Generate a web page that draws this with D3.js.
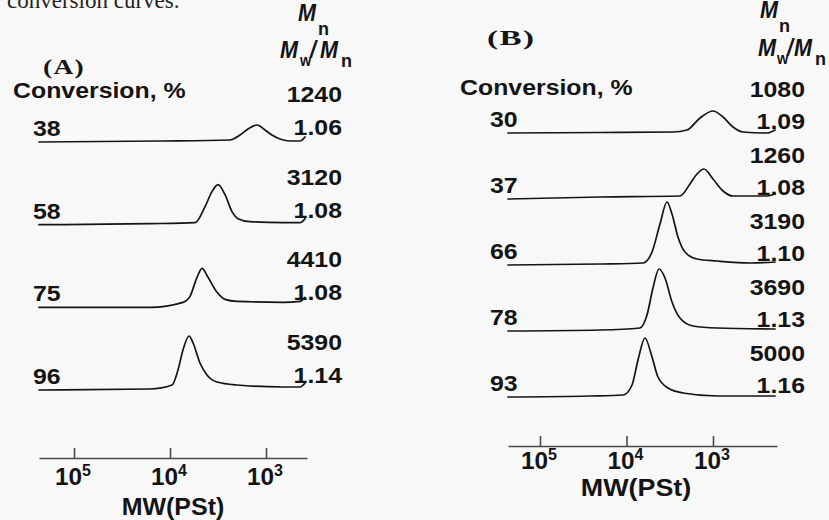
<!DOCTYPE html>
<html><head><meta charset="utf-8">
<script src="https://cdn.jsdelivr.net/npm/d3@7"></script>
<style>html,body{margin:0;padding:0;background:#f8f8f8;} svg{display:block;}</style>
</head><body><svg id="c" width="829" height="520"></svg>
<script>
// ---------- data ----------
const conversionA = [38, 58, 75, 96];
const mnA = ["1240", "3120", "4410", "5390"];
const pdiA = ["1.06", "1.08", "1.08", "1.14"];
const conversionB = [30, 37, 66, 78, 93];
const mnB = ["1080", "1260", "3190", "3690", "5000"];
const pdiB = ["1.09", "1.08", "1.10", "1.13", "1.16"];
const mwTicks = [1e5, 1e4, 1e3];
const tickExponents = ["5", "4", "3"];
// GPC traces: [log10 MW, detector signal (a.u.)]
const traceA38 = [[5.365,0],[4.729,0.5],[4.104,1],[3.375,2],[3.271,7],[3.188,13],[3.094,17],[3.010,12],[2.938,7],[2.854,3],[2.750,1],[2.646,1],[2.594,5]];
const traceA58 = [[5.365,0],[4.208,1],[3.740,2],[3.635,18],[3.563,33],[3.500,40],[3.427,30],[3.354,13],[3.292,6],[3.167,3],[2.823,2],[2.646,2],[2.594,6]];
const traceA75 = [[5.365,0],[4.208,0],[3.865,5],[3.792,11],[3.719,30],[3.667,39],[3.604,30],[3.510,15],[3.427,8],[3.302,6],[2.823,5],[2.646,6],[2.594,10]];
const traceA96 = [[5.365,0],[4.208,1],[3.979,5],[3.917,20],[3.865,40],[3.802,54],[3.760,47],[3.688,27],[3.615,15],[3.510,8],[3.302,5],[2.823,3],[2.646,3],[2.594,7]];
const traceB30 = [[5.370,0],[4.306,0.5],[3.462,1],[3.301,3],[3.150,15],[3.000,22],[2.884,16],[2.769,6],[2.653,1],[2.376,0],[2.283,3]];
const traceB37 = [[5.370,0],[4.306,2],[3.382,3],[3.266,15],[3.185,25],[3.104,30],[3.000,20],[2.884,8],[2.769,3],[2.376,3],[2.283,5]];
const traceB66 = [[5.370,0],[4.306,1],[3.809,2],[3.705,13],[3.613,41],[3.532,63],[3.474,51],[3.405,28],[3.324,13],[3.185,6],[2.954,4],[2.572,2],[2.283,3]];
const traceB78 = [[5.370,0],[4.306,1],[3.844,3],[3.763,16],[3.694,43],[3.624,62],[3.555,53],[3.474,29],[3.382,13],[3.231,5],[2.954,3],[2.283,2]];
const traceB93 = [[5.370,0],[4.422,1],[4.040,2],[3.936,12],[3.867,37],[3.786,59],[3.705,40],[3.636,20],[3.520,9],[3.347,4],[2.954,1],[2.283,1]];
const tracesA = [traceA38, traceA58, traceA75, traceA96];
const tracesB = [traceB30, traceB37, traceB66, traceB78, traceB93];

// ---------- drawing ----------
const svg = d3.select("#c");
svg.append("rect").attr("width", 829).attr("height", 520).attr("fill", "#f8f8f8");
const SANS = "'Liberation Sans', Arial, sans-serif";
const SERIF = "'Liberation Serif', 'Times New Roman', serif";
const INK = "#141414";

function T(g, str, x, y, o = {}) {
  const size = o.size || 22, sx = o.sx || 1.13;
  return g.append("text")
    .attr("transform", `translate(${x},${y}) scale(${sx},1)`)
    .attr("text-anchor", o.anchor || "start")
    .attr("font-family", o.family || SANS)
    .attr("font-weight", o.weight || "bold")
    .attr("font-style", o.style || "normal")
    .attr("font-size", size)
    .attr("letter-spacing", o.ls || 0)
    .attr("fill", o.fill || INK)
    .text(str);
}

// clipped caption line from the page above
T(svg, "conversion curves.", 7, 8, {size: 23, sx: 1.0, family: SERIF, weight: "normal", fill: "#222"});

const y = d3.scaleLinear().domain([0, 70]).range([0, -70]);

function panel(cfg) {
  const g = svg.append("g");
  const x = d3.scaleLog().domain(cfg.logDomain.map(v => Math.pow(10, v))).range(cfg.xRange);
  const row = d3.scalePoint().domain(cfg.conv).range(cfg.rowRange);
  const line = d3.line().x(d => x(Math.pow(10, d[0]))).y(d => y(d[1])).curve(d3.curveMonotoneX);

  // axis
  const ax = g.append("g").attr("transform", `translate(0,${cfg.axisY})`)
    .call(d3.axisBottom(x).tickValues(mwTicks).tickSizeInner(-10).tickSizeOuter(0).tickFormat(""));
  ax.select(".domain").attr("stroke", "#4a4a4a").attr("stroke-width", 1.6);
  ax.selectAll(".tick line").attr("stroke", "#4a4a4a").attr("stroke-width", 1.6);
  mwTicks.forEach((t, i) => {
    const tx = x(t);
    T(g, "10", tx - 19, cfg.tickLabelY, {size: 23, sx: 1.06});
    T(g, tickExponents[i], tx + 8, cfg.tickLabelY - 9, {size: 16, sx: 1.0});
  });
  T(g, "MW(PSt)", cfg.mwLabel[0], cfg.mwLabel[1], {size: 24, sx: cfg.mwLabel[2], anchor: "middle"});

  // traces
  cfg.conv.forEach((c, i) => {
    const r = row(c);
    g.append("path").attr("transform", `translate(0,${r})`)
      .attr("d", line(cfg.traces[i]))
      .attr("fill", "none").attr("stroke", INK).attr("stroke-width", 1.7)
      .attr("stroke-linejoin", "round").attr("stroke-linecap", "round");
    T(g, String(c), cfg.convX, r - 6);
    T(g, cfg.mn[i], cfg.numRight, r + cfg.mnOff, {anchor: "end"});
    T(g, cfg.pdi[i], cfg.numRight, r + cfg.pdiOff, {anchor: "end"});
  });

  // titles
  T(g, cfg.letter, cfg.letterPos[0], cfg.letterPos[1], {family: SERIF, size: 22, sx: cfg.letterSx, ls: 1});
  T(g, "Conversion, %", cfg.convTitle[0], cfg.convTitle[1]);
  // header M_n and M_w/M_n
  const h = cfg.head;
  T(g, "M", h.m1[0], h.m1[1], {size: 24, sx: 0.9, style: "italic"});
  T(g, "n", h.n1[0], h.n1[1], {size: 19, sx: 0.95});
  T(g, "M", h.m2[0], h.m2[1], {size: 24, sx: 0.9, style: "italic"});
  T(g, "w", h.w2[0], h.w2[1], {size: 17, sx: 0.85});
  T(g, "/", h.s2[0], h.s2[1], {size: 24, sx: 0.9, style: "italic"});
  T(g, "M", h.m3[0], h.m3[1], {size: 24, sx: 0.9, style: "italic"});
  T(g, "n", h.n3[0], h.n3[1], {size: 19, sx: 0.95});
}

panel({
  conv: conversionA, mn: mnA, pdi: pdiA, traces: tracesA,
  logDomain: [5.365, 2.573], xRange: [39, 307], rowRange: [142, 390],
  axisY: 458, tickLabelY: 485, mwLabel: [173, 515, 1.04],
  convX: 33, numRight: 342, mnOff: -40, pdiOff: -7,
  letter: "(A)", letterPos: [43, 74], letterSx: 1.25,
  convTitle: [13, 98],
  head: {m1: [298, 21], n1: [318, 35], m2: [280, 58], w2: [300, 66], s2: [310, 58], m3: [320, 58], n3: [341, 67]}
});
panel({
  conv: conversionB, mn: mnB, pdi: pdiB, traces: tracesB,
  logDomain: [5.37, 2.26], xRange: [508, 777], rowRange: [133, 397],
  axisY: 446, tickLabelY: 469, mwLabel: [636, 496, 1.12],
  convX: 490, numRight: 805, mnOff: -36, pdiOff: -4,
  letter: "(B)", letterPos: [487, 45], letterSx: 1.5,
  convTitle: [460, 95],
  head: {m1: [760, 18], n1: [779, 32], m2: [758, 56], w2: [777, 64], s2: [787, 56], m3: [794, 56], n3: [815, 65]}
});
</script></body></html>
